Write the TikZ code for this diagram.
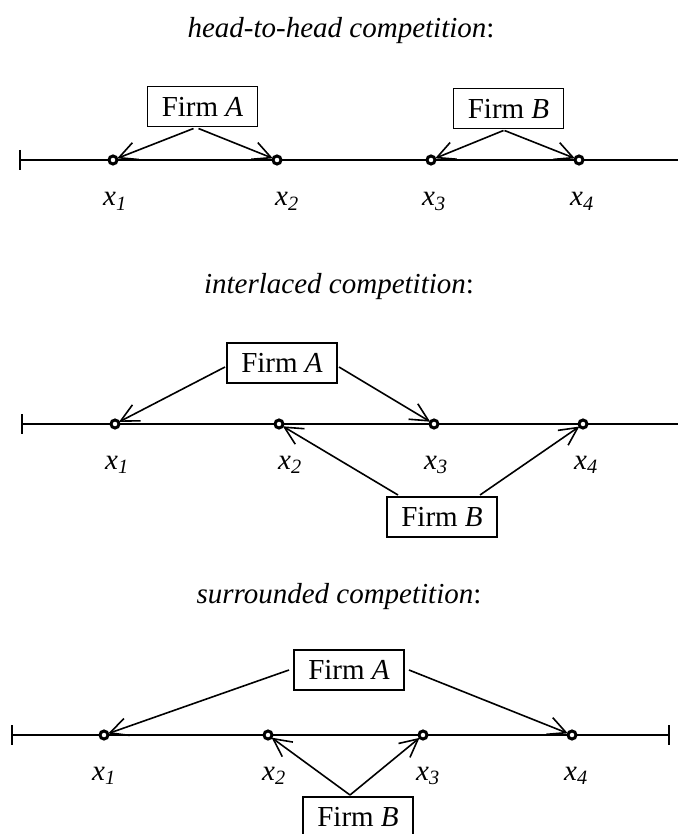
\documentclass[tikz,border=0pt]{standalone}
\usepackage{fontspec}
\setmainfont{Liberation Serif}
\usetikzlibrary{arrows.meta}
\begin{document}
\begin{tikzpicture}[x=1pt,y=-1pt,
  font=\fontsize{29}{35}\selectfont,
  axis/.style={line width=1.8pt},
  firm/.style={draw, line width=1.6pt, minimum width=110pt, minimum height=40pt, inner sep=0pt, outer sep=2pt},
  pt/.style={circle, draw, fill=white, line width=3pt, minimum size=8pt, inner sep=0pt, outer sep=0.5pt},
  arr/.style={line width=1.6pt, -{Straight Barb[length=18pt,width=18pt]}},
  lab/.style={anchor=base, inner sep=0pt},
  ttl/.style={anchor=base, inner sep=0pt}]
\useasboundingbox (0,0) rectangle (678,834);

% ---------- panel 1: head-to-head ----------
\node[ttl] (t1) at (341,38) {\textit{head-to-head competition}:};
\coordinate (l1) at (20,160); \coordinate (r1) at (678,160);
\draw[axis] (l1) -- (r1);
\draw[axis] (l1) ++(0,-10) -- ++(0,20);
\node[pt] (p11) at (113,160) {};
\node[pt] (p12) at (277,160) {};
\node[pt] (p13) at (431,160) {};
\node[pt] (p14) at (579,160) {};
\node[lab] (x11) at (115,206) {\textit{x}\textsubscript{\textit{1}}};
\node[lab] (x12) at (287,206) {\textit{x}\textsubscript{\textit{2}}};
\node[lab] (x13) at (434,206) {\textit{x}\textsubscript{\textit{3}}};
\node[lab] (x14) at (582,206) {\textit{x}\textsubscript{\textit{4}}};
\node[firm] (a1) at (202.5,106.5) {Firm \textit{A}};
\node[firm] (b1) at (508.5,108.5) {Firm \textit{B}};
\draw[arr] ([xshift=-9pt]a1.south) -- (p11);
\draw[arr] ([xshift=-4pt]a1.south) -- (p12);
\draw[arr] ([xshift=-5pt]b1.south) -- (p13);
\draw[arr] ([xshift=-4pt]b1.south) -- (p14);

% ---------- panel 2: interlaced ----------
\node[ttl] (t2) at (339,293) {\textit{interlaced competition}:};
\coordinate (l2) at (22,424); \coordinate (r2) at (678,424);
\draw[axis] (l2) -- (r2);
\draw[axis] (l2) ++(0,-10) -- ++(0,20);
\node[pt] (p21) at (115,424) {};
\node[pt] (p22) at (279,424) {};
\node[pt] (p23) at (434,424) {};
\node[pt] (p24) at (583,424) {};
\node[lab] (x21) at (117,469) {\textit{x}\textsubscript{\textit{1}}};
\node[lab] (x22) at (290,469) {\textit{x}\textsubscript{\textit{2}}};
\node[lab] (x23) at (436,469) {\textit{x}\textsubscript{\textit{3}}};
\node[lab] (x24) at (586,469) {\textit{x}\textsubscript{\textit{4}}};
\node[firm] (a2) at (282,363) {Firm \textit{A}};
\node[firm] (b2) at (442,517) {Firm \textit{B}};
\draw[arr] ([yshift=-4pt]a2.west) -- (p21);
\draw[arr] ([yshift=-4pt]a2.east) -- (p23);
\draw[arr] ([xshift=-44pt]b2.north) -- (p22);
\draw[arr] ([xshift=38pt]b2.north) -- (p24);

% ---------- panel 3: surrounded ----------
\node[ttl] (t3) at (339,603) {\textit{surrounded competition}:};
\coordinate (l3) at (12,735); \coordinate (r3) at (669,735);
\draw[axis] (l3) -- (r3);
\draw[axis] (l3) ++(0,-10) -- ++(0,20);
\draw[axis] (r3) ++(0,-10) -- ++(0,20);
\node[pt] (p31) at (104,735) {};
\node[pt] (p32) at (268,735) {};
\node[pt] (p33) at (423,735) {};
\node[pt] (p34) at (572,735) {};
\node[lab] (x31) at (104,780) {\textit{x}\textsubscript{\textit{1}}};
\node[lab] (x32) at (274,780) {\textit{x}\textsubscript{\textit{2}}};
\node[lab] (x33) at (428,780) {\textit{x}\textsubscript{\textit{3}}};
\node[lab] (x34) at (576,780) {\textit{x}\textsubscript{\textit{4}}};
\node[firm] (a3) at (349,670) {Firm \textit{A}};
\node[firm] (b3) at (358,817) {Firm \textit{B}};
\draw[arr] ([xshift=-3pt]a3.west) -- (p31);
\draw[arr] ([xshift=3pt]a3.east) -- (p34);
\draw[arr] ([xshift=-8pt]b3.north) -- (p32);
\draw[arr] ([xshift=-8pt]b3.north) -- (p33);
\end{tikzpicture}
\end{document}
